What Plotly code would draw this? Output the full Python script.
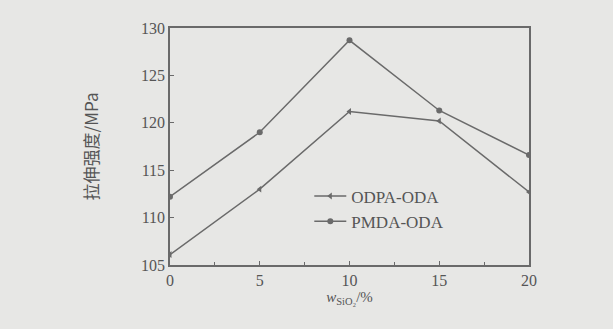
import plotly.graph_objects as go

x_vals = [0, 5, 10, 15, 20]
odpa_oda = [106.1, 113.0, 121.2, 120.2, 112.7]
pmda_oda = [112.2, 119.0, 128.7, 121.3, 116.6]
y_ticks = [105, 110, 115, 120, 125, 130]
x_ticks = [0, 5, 10, 15, 20]

line_col = "#6a6a6a"
text_col = "#555555"
bg = "#e7e7e5"

fig = go.Figure()
fig.add_trace(go.Scatter(x=x_vals, y=odpa_oda, mode="lines+markers", name="ODPA-ODA",
                         line=dict(color=line_col, width=1.5),
                         marker=dict(symbol="triangle-left", size=6, color=line_col)))
fig.add_trace(go.Scatter(x=x_vals, y=pmda_oda, mode="lines+markers", name="PMDA-ODA",
                         line=dict(color=line_col, width=1.5),
                         marker=dict(symbol="circle", size=6, color=line_col)))

font = dict(family="Liberation Serif, DejaVu Serif, serif", size=16, color=text_col)
fig.update_layout(
    width=613, height=329,
    paper_bgcolor=bg, plot_bgcolor=bg,
    margin=dict(l=170, r=84, t=28, b=64, autoexpand=False),
    font=font,
    showlegend=True,
    legend=dict(x=0.388, y=0.365, xanchor="left", yanchor="top", bgcolor="rgba(0,0,0,0)",
                font=dict(family="Liberation Serif, serif", size=17, color=text_col),
                itemwidth=32, tracegroupgap=0),
    xaxis=dict(range=[0, 20], tickvals=x_ticks, ticks="inside", ticklen=4, tickcolor=line_col,
               showline=True, linecolor=line_col, linewidth=1.5, mirror=True, showgrid=False,
               zeroline=False,
               minor=dict(tickvals=[2.5, 7.5, 12.5, 17.5], ticks="inside", ticklen=3, tickcolor=line_col),
               title=dict(text="<i>w</i><sub>SiO₂</sub>/%", font=dict(size=15, color=text_col), standoff=2)),
    yaxis=dict(range=[105, 130], tickvals=y_ticks, ticks="inside", ticklen=4, tickcolor=line_col,
               showline=True, linecolor=line_col, linewidth=1.5, mirror=True, showgrid=False,
               zeroline=False,
               title=dict(text="拉伸强度/MPa", font=dict(family="Noto Sans CJK SC, Liberation Serif", size=17, color=text_col), standoff=38)),
)

fig.write_html("out.html", config={"displayModeBar": False},
               post_script="document.body.style.margin='0';document.body.style.background='#e7e7e5';document.documentElement.style.background='#e7e7e5';")
